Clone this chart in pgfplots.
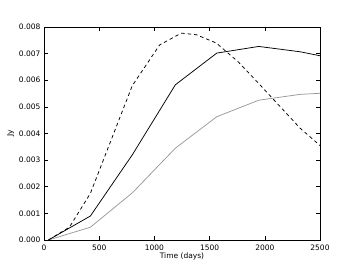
\documentclass[border=0pt]{standalone}
\usepackage{fontspec}
\setmainfont{DejaVu Sans}
\usepackage{pgfplots}
\pgfplotsset{compat=1.18}
\begin{document}
\begin{tikzpicture}[x=1pt,y=1pt]
\path[use as bounding box] (-44pt,-27pt) rectangle (312pt,240pt);
\begin{axis}[
  scale only axis,
  width=276pt, height=213pt,
  xmin=0, xmax=2500, ymin=0, ymax=0.008,
  xtick={0,500,1000,1500,2000,2500},
  ytick={0,0.001,0.002,0.003,0.004,0.005,0.006,0.007,0.008},
  xticklabel style={/pgf/number format/1000 sep={}},
  yticklabel style={/pgf/number format/.cd, fixed, fixed zerofill, precision=3},
  scaled y ticks=false,
  /pgf/number format/assume math mode=true,
  tick align=inside,
  major tick length=4pt,
  tick style={black, line width=0.5pt},
  ticklabel style={font=\fontsize{7.5}{8}\selectfont},
  xticklabel style={yshift=-1pt},
  xtick pos=both, ytick pos=both,
  xlabel={Time (days)}, ylabel={Jy},
  label style={font=\fontsize{7.5}{8}\selectfont},
  xlabel style={yshift=4.5pt},
  ylabel style={yshift=-2pt},
  axis line style={line width=0.8pt},
  clip=true,
]
\addplot[black, line width=0.75pt] coordinates {
 (40,0) (420,0.0009) (800,0.0032) (1190,0.00583) (1565,0.00702) (1945,0.00727) (2320,0.00707) (2500,0.00692)};
\addplot[gray!80, line width=0.75pt] coordinates {
 (40,0) (420,0.00048) (800,0.00177) (1190,0.00345) (1565,0.00463) (1945,0.00525) (2320,0.00547) (2500,0.00551)};
\addplot[black, line width=0.75pt, dash pattern=on 3.5pt off 3pt] coordinates {
 (40,0) (230,0.00048) (420,0.00175) (800,0.0058) (1048,0.00733) (1244,0.00777) (1380,0.00771) (1560,0.0074) (1757,0.0067) (1940,0.0059) (2320,0.0042) (2500,0.00355)};
\end{axis}
\end{tikzpicture}
\end{document}
